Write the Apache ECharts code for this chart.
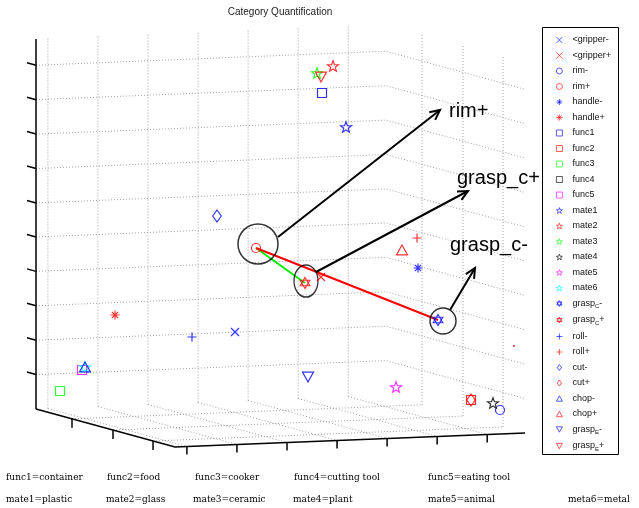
<!DOCTYPE html>
<html>
<head>
<meta charset="utf-8">
<script src="https://cdn.jsdelivr.net/npm/echarts@6/dist/echarts.min.js"></script>
<style>
html, body { margin: 0; padding: 0; background: #fff; }
#chart { width: 639px; height: 508px; }
</style>
</head>
<body>
<div id="chart"></div>
<script>
// one entry per legend item; positions are where the 3-D view puts each point on screen
const names = ['<gripper-', '<gripper+', 'rim-', 'rim+', 'handle-', 'handle+',
    'func1', 'func2', 'func3', 'func4', 'func5',
    'mate1', 'mate2', 'mate3', 'mate4', 'mate5', 'mate6',
    'grasp_C-', 'grasp_C+', 'roll-', 'roll+', 'cut-', 'cut+',
    'chop-', 'chop+', 'grasp_E-', 'grasp_E+'];
const colors = ['#0000ff', '#ff0000', '#0000ff', '#ff0000', '#0000ff', '#ff0000',
    '#0000ff', '#ff0000', '#00ff00', '#000000', '#ff00ff',
    '#0000ff', '#ff0000', '#00ff00', '#000000', '#ff00ff', '#00ffff',
    '#0000ff', '#ff0000', '#0000ff', '#ff0000', '#0000ff', '#ff0000',
    '#0000ff', '#ff0000', '#0000ff', '#ff0000'];
const markers = ['x', 'x', 'o', 'o', '*', '*',
    's', 's', 's', 's', 's',
    'p', 'p', 'p', 'p', 'p', 'p',
    'h', 'h', '+', '+', 'd', 'd',
    '^', '^', 'v', 'v'];
const posX = [235, 321, 500, 256, 418, 115,
    322, 471, 60, null, 82,
    346, 333, 317, 493, 396, 85,
    438, 305, 192, 417, 217, 471,
    85, 402, 308, 321];
const posY = [332, 277, 410, 248, 268, 315,
    93, 400, 391, null, 370,
    127, 66, 73, 403, 387, 367,
    320, 283, 337, 238, 216, 400,
    367, 250, 377, 77];

// stray red dot near the right wall
const dotX = [514];
const dotY = [346];

// links drawn from rim+
const linkFrom = ['rim+', 'rim+'];
const linkTo = ['grasp_C+', 'grasp_C-'];
const linkColors = ['#00ee00', '#ff0000'];

// highlight rings
const ringX = [258, 306, 443];
const ringY = [244, 281, 321];
const ringW = [40, 24, 26];
const ringH = [40, 32, 26];

// annotation arrows
const arrowLabels = ['rim+', 'grasp_c+', 'grasp_c-'];
const arrowStart = [[278, 237], [316, 272], [450, 310]];
const arrowEnd = [[440, 110], [468, 191], [475, 268]];
const labelPos = [[449, 111], [457, 178], [450, 245]];

// 3-D box as it lands on screen
const origin = [36, 409];
const alongX = [350, -14];
const alongY = [139, 38];
const boxHeight = 370;
const xTicks = [0.034, 0.177, 0.32, 0.463, 0.606, 0.749, 0.892];
const yTicks = [0.259, 0.554, 0.842];
const zTicks = [0.093, 0.186, 0.279, 0.372, 0.465, 0.557, 0.65, 0.743, 0.836, 0.929];

const captionsTop = [['func1=container', 6], ['func2=food', 107], ['func3=cooker', 195], ['func4=cutting tool', 294], ['func5=eating tool', 428]];
const captionsBottom = [['mate1=plastic', 6], ['mate2=glass', 106], ['mate3=ceramic', 193], ['mate4=plant', 293], ['mate5=animal', 428], ['meta6=metal', 568]];

function P(u, v, w) {
    return [origin[0] + u * alongX[0] + v * alongY[0],
            origin[1] + u * alongX[1] + v * alongY[1] - w * boxHeight];
}

function starPath(n, rIn) {
    let d = '';
    for (let i = 0; i < 2 * n; i++) {
        const r = i % 2 ? rIn : 1;
        const a = -Math.PI / 2 + i * Math.PI / n;
        d += (i ? 'L' : 'M') + (5 + 5 * r * Math.cos(a)).toFixed(2) + ',' + (5 + 5 * r * Math.sin(a)).toFixed(2);
    }
    return 'path://' + d + 'Z';
}

const symbols = {
    'x': ['path://M0,0L10,10M10,0L0,10', 8],
    '+': ['path://M5,0L5,10M0,5L10,5', 9],
    '*': ['path://M5,0L5,10M0,5L10,5M1.5,1.5L8.5,8.5M8.5,1.5L1.5,8.5', 9],
    'o': ['circle', 9],
    's': ['path://M0,0L10,0L10,10L0,10Z', 9],
    'p': [starPath(5, 0.42), 11],
    'h': ['path://M5,0L9.33,7.5L0.67,7.5ZM5,10L0.67,2.5L9.33,2.5Z', 11],
    'd': ['path://M5,0L10,7L5,14L0,7Z', 12],
    '^': ['path://M5,0L10,9L0,9Z', 11],
    'v': ['path://M0,0L10,0L5,9Z', 11]
};

// grid lines on the two back walls and the floor
const gridSegs = [];
xTicks.forEach(u => {
    gridSegs.push([P(u, 0, 0), P(u, 0, 1)]);
    gridSegs.push([P(u, 0, 0), P(u, 1, 0)]);
});
yTicks.forEach(v => {
    gridSegs.push([P(1, v, 0), P(1, v, 1)]);
    gridSegs.push([P(0, v, 0), P(1, v, 0)]);
});
zTicks.forEach(w => {
    gridSegs.push([P(0, 0, w), P(1, 0, w), P(1, 1, w)]);
});

// axes and tick marks
const axisSegs = [[P(0, 0, 0), P(0, 0, 1)], [P(0, 0, 0), P(0, 1, 0), P(1, 1, 0)]];
zTicks.forEach(w => {
    const p = P(0, 0, w);
    axisSegs.push([p, [p[0] - 9, p[1] - 2.5]]);
});
yTicks.forEach(v => {
    const p = P(0, v, 0);
    axisSegs.push([p, [p[0], p[1] + 9]]);
});
xTicks.forEach(u => {
    const p = P(u, 1, 0);
    axisSegs.push([p, [p[0], p[1] + 8]]);
});

// arrows with open heads
const arrowSegs = [];
arrowStart.forEach((s, i) => {
    const e = arrowEnd[i];
    const dx = e[0] - s[0], dy = e[1] - s[1];
    const len = Math.hypot(dx, dy);
    const ux = dx / len, uy = dy / len;
    const wing = (ang) => {
        const c = Math.cos(ang), sn = Math.sin(ang);
        return [e[0] - 11 * (ux * c - uy * sn), e[1] - 11 * (ux * sn + uy * c)];
    };
    arrowSegs.push([s, e]);
    arrowSegs.push([wing(0.45), e, wing(-0.45)]);
});

const idx = name => names.indexOf(name);

const series = [
    {
        type: 'lines', coordinateSystem: 'cartesian2d', polyline: true, silent: true, z: 1,
        lineStyle: { color: '#a0a0a0', width: 1, type: [1, 2], opacity: 1 },
        data: gridSegs.map(c => ({ coords: c }))
    },
    {
        type: 'lines', coordinateSystem: 'cartesian2d', polyline: true, silent: true, z: 2,
        lineStyle: { color: '#000', width: 1.5, opacity: 1 },
        data: axisSegs.map(c => ({ coords: c }))
    },
    {
        type: 'lines', coordinateSystem: 'cartesian2d', silent: true, z: 3,
        data: linkFrom.map((f, i) => ({
            coords: [[posX[idx(f)], posY[idx(f)]], [posX[idx(linkTo[i])], posY[idx(linkTo[i])]]],
            lineStyle: { color: linkColors[i], width: 2, opacity: 1 }
        }))
    },
    {
        type: 'scatter', name: 'rings', silent: true, z: 4, symbol: 'circle',
        itemStyle: { color: 'rgba(0,0,0,0)', borderColor: '#000', borderWidth: 1.5 },
        data: ringX.map((x, i) => ({ value: [x, ringY[i]], symbolSize: [ringW[i], ringH[i]] }))
    },
    {
        type: 'lines', coordinateSystem: 'cartesian2d', polyline: true, silent: true, z: 6,
        lineStyle: { color: '#000', width: 2, opacity: 1 },
        data: arrowSegs.map(c => ({ coords: c }))
    },
    {
        type: 'scatter', name: 'dot', silent: true, z: 5, symbol: 'circle', symbolSize: 2,
        itemStyle: { color: '#ff0000' },
        data: dotX.map((x, i) => [x, dotY[i]])
    }
];

names.forEach((name, i) => {
    const sym = symbols[markers[i]];
    series.push({
        type: 'scatter', name: name, z: 5,
        symbol: sym[0], symbolSize: sym[1], symbolKeepAspect: true,
        itemStyle: { color: 'rgba(0,0,0,0)', borderColor: colors[i], borderWidth: 1.2 },
        data: posX[i] == null ? [] : [[posX[i], posY[i]]]
    });
});

const legendData = names.map((name, i) => ({
    name: name,
    icon: symbols[markers[i]][0],
    itemStyle: { color: 'rgba(0,0,0,0)', borderColor: colors[i], borderWidth: 0.8 }
}));

const chart = echarts.init(document.getElementById('chart'));
chart.setOption({
    animation: false,
    grid: { left: 0, right: 0, top: 0, bottom: 0 },
    xAxis: { type: 'value', min: 0, max: 639, show: false },
    yAxis: { type: 'value', min: 0, max: 508, inverse: true, show: false },
    legend: {
        data: legendData,
        orient: 'vertical',
        left: 556, top: 35,
        padding: 0,
        itemWidth: 6, itemHeight: 6, itemGap: 5.5,
        symbolKeepAspect: true,
        selectedMode: false,
        textStyle: {
            fontFamily: 'Liberation Sans', fontSize: 9, color: '#111', lineHeight: 10, padding: [0, 0, 0, 5],
            rich: {
                n: { fontFamily: 'Liberation Sans', fontSize: 9, color: '#111' },
                s: { fontFamily: 'Liberation Sans', fontSize: 6, color: '#111', padding: [6, 0, 0, 0] }
            }
        },
        formatter: name => {
            const m = name.match(/^(grasp)_(\w)(.)$/);
            return m ? '{n|' + m[1] + '}{s|' + m[2] + '}{n|' + m[3] + '}' : name;
        }
    },
    graphic: [
        { type: 'rect', shape: { x: 542.5, y: 27.5, width: 76, height: 427 }, style: { fill: '#fff', stroke: '#000', lineWidth: 1 }, z: -1 },
        { type: 'text', x: 280, y: 12, style: { text: 'Category Quantification', fontFamily: 'Liberation Sans', fontSize: 10, fill: '#222', align: 'center', verticalAlign: 'middle' } }
    ].concat(arrowLabels.map((t, i) => ({
        type: 'text', x: labelPos[i][0], y: labelPos[i][1], z: 10,
        style: { text: t, fontFamily: 'Liberation Sans', fontSize: 20, fill: '#000', verticalAlign: 'middle' }
    }))).concat(captionsTop.map(c => ({
        type: 'text', x: c[1], y: 478,
        style: { text: c[0], fontFamily: 'DejaVu Serif', fontSize: 9, fill: '#000', verticalAlign: 'middle' }
    }))).concat(captionsBottom.map(c => ({
        type: 'text', x: c[1], y: 500,
        style: { text: c[0], fontFamily: 'DejaVu Serif', fontSize: 9, fill: '#000', verticalAlign: 'middle' }
    }))),
    series: series
});
</script>
</body>
</html>
